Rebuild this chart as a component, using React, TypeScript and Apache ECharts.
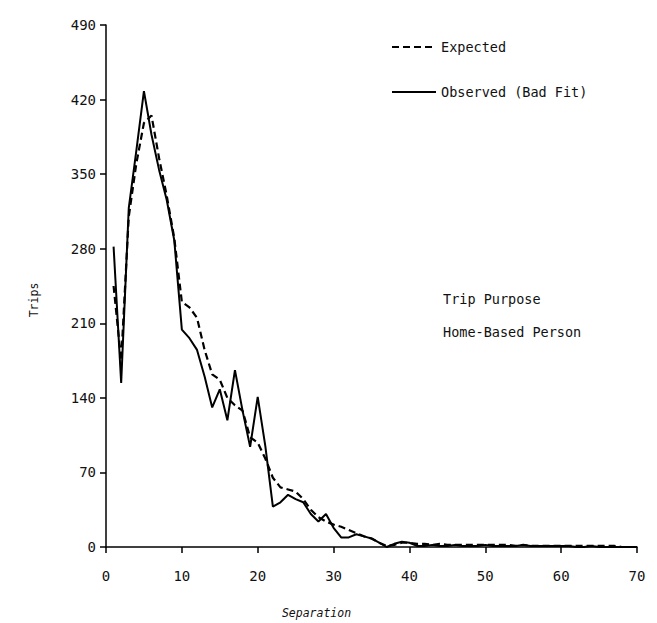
import React, { useEffect, useRef } from "react";
import * as echarts from "echarts";

// Trip length distribution: separation (zones) vs number of trips
const separation = [
  1, 2, 3, 4, 5, 6, 7, 8, 9, 10, 11, 12, 13, 14, 15, 16, 17, 18, 19, 20,
  21, 22, 23, 24, 25, 26, 27, 28, 29, 30, 31, 32, 33, 34, 35, 36, 37, 38, 39, 40,
  41, 42, 43, 44, 45, 46, 47, 48, 49, 50, 51, 52, 53, 54, 55, 56, 57, 58, 59, 60,
  61, 62, 63, 64, 65, 66, 67, 68, 69, 70,
];

const expectedTrips = [
  245, 175, 310, 360, 398, 405, 365, 330, 290, 230, 225, 215, 185, 162, 157, 140, 133, 128, 103, 98,
  83, 65, 56, 54, 52, 45, 35, 28, 24, 21, 19, 16, 13, 10, 8, 4, 1, 2, 4, 4,
  3, 3, 2, 3, 2, 2, 2, 2, 2, 2, 2, 2, 2, 1, 2, 1, 1, 1, 1, 1,
  1, 1, 1, 1, 1, 1, 1, 0, 0, 0,
];

const observedTrips = [
  282, 154, 318, 372, 428, 387, 354, 326, 288, 204, 196, 185, 160, 131, 148, 119, 166, 128, 94, 141,
  95, 38, 42, 49, 45, 42, 31, 24, 31, 18, 9, 9, 12, 10, 8, 4, 0, 3, 5, 4,
  1, 1, 2, 1, 1, 2, 1, 1, 1, 2, 1, 1, 1, 1, 2, 1, 1, 1, 1, 1,
  1, 0, 0, 1, 0, 0, 0, 0, 0, 0,
];

const yTicks = { min: 0, max: 490, interval: 70 };
const xTicks = { min: 0, max: 70, interval: 10 };

const noteLines = ["Trip Purpose", "Home-Based Person"];

const MONO = "'DejaVu Sans Mono', 'Liberation Mono', monospace";

export default function App() {
  const ref = useRef<HTMLDivElement>(null);

  useEffect(() => {
    if (!ref.current) return;
    const chart = echarts.init(ref.current, null, { renderer: "svg" });

    const pairs = (vals: number[]) => separation.map((s, i) => [s, vals[i]]);

    chart.setOption({
      animation: false,
      backgroundColor: "#ffffff",
      grid: {
        left: 106,
        right: 20,
        top: 25,
        bottom: 76,
        containLabel: false,
        outerBoundsMode: "none",
      },
      legend: {
        orient: "vertical",
        left: 386,
        top: 35,
        itemWidth: 44,
        itemHeight: 14,
        itemGap: 31,
        // hide the marker dot; keep only the line sample
        itemStyle: { opacity: 0 },
        textStyle: { fontFamily: MONO, fontSize: 13.5, color: "#111" },
        data: ["Expected", "Observed (Bad Fit)"],
      },
      xAxis: {
        type: "value",
        min: xTicks.min,
        max: xTicks.max,
        interval: xTicks.interval,
        name: "Separation",
        nameLocation: "middle",
        nameGap: 60,
        nameTextStyle: {
          fontFamily: MONO,
          fontStyle: "italic",
          fontSize: 11.5,
          color: "#111",
          padding: [0, 110, 0, 0],
        },
        axisLine: { lineStyle: { color: "#000", width: 1.5 } },
        axisTick: { inside: false, length: 6, lineStyle: { color: "#000", width: 1.5 } },
        axisLabel: { fontFamily: MONO, fontSize: 14, color: "#111", margin: 22 },
        splitLine: { show: false },
      },
      yAxis: {
        type: "value",
        min: yTicks.min,
        max: yTicks.max,
        interval: yTicks.interval,
        name: "Trips",
        nameLocation: "middle",
        nameGap: 66,
        nameRotate: 90,
        nameTextStyle: {
          fontFamily: MONO,
          fontSize: 11.5,
          color: "#111",
          padding: [0, 28, 0, 0],
        },
        axisLine: { show: true, lineStyle: { color: "#000", width: 1.5 } },
        axisTick: { show: true, inside: false, length: 6, lineStyle: { color: "#000", width: 1.5 } },
        axisLabel: { fontFamily: MONO, fontSize: 14, color: "#111", margin: 10 },
        splitLine: { show: false },
      },
      series: [
        {
          name: "Expected",
          type: "line",
          symbol: "none",
          data: pairs(expectedTrips),
          lineStyle: { color: "#000", width: 2.2, type: [7, 4] },
          itemStyle: { color: "#000" },
          z: 3,
        },
        {
          name: "Observed (Bad Fit)",
          type: "line",
          symbol: "none",
          data: pairs(observedTrips),
          lineStyle: { color: "#000", width: 2 },
          itemStyle: { color: "#000" },
          z: 4,
        },
      ],
      graphic: noteLines.map((t, i) => ({
        type: "text",
        left: 443,
        top: 292 + i * 33,
        style: { text: t, fontFamily: MONO, fontSize: 13.5, fill: "#111" },
      })),
    });

    return () => chart.dispose();
  }, []);

  return <div ref={ref} style={{ width: 657, height: 623, position: "absolute", left: 0, top: 0 }} />;
}
